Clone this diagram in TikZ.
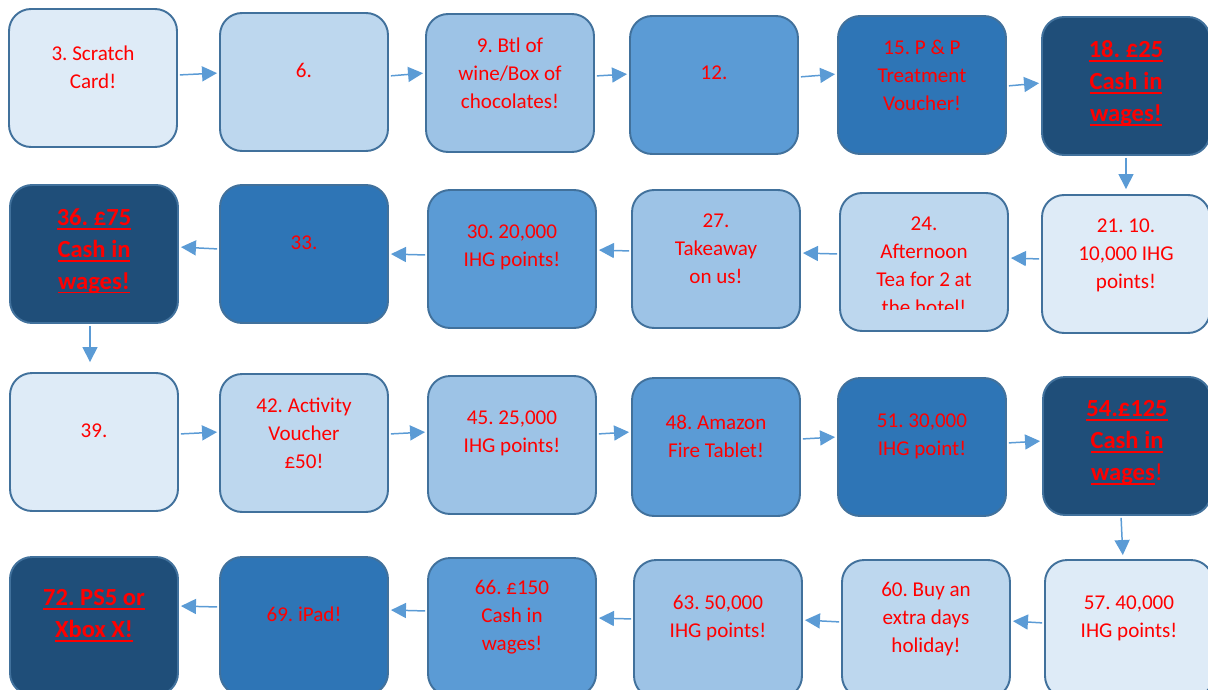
\documentclass[tikz,border=0pt]{standalone}
\usepackage{fontspec}
\setmainfont{Carlito}
\usetikzlibrary{arrows.meta}
\definecolor{tone1}{HTML}{DEEBF7}
\definecolor{tone2}{HTML}{BDD7EE}
\definecolor{tone3}{HTML}{9DC3E6}
\definecolor{tone4}{HTML}{5B9BD5}
\definecolor{tone5}{HTML}{2E75B6}
\definecolor{tone6}{HTML}{1F4E79}
\definecolor{rim}{HTML}{41719C}
\definecolor{linkblue}{HTML}{5B9BD5}
\frenchspacing
\newlength\prizewd
\newcommand\prizeline[1]{\settowidth\prizewd{#1}\rlap{\rule[-2.4pt]{\prizewd}{1.1pt}}#1}
\begin{document}
\begin{tikzpicture}[x=0.02cm, y=-0.02cm,
    tile/.style={draw=rim, line width=1.1pt, rounded corners=0.44cm, minimum width=3.36cm, minimum height=2.76cm, inner sep=0pt},
    prize/.style={text=red, align=center, inner sep=0pt, font=\fontsize{12pt}{15.9pt}\selectfont},
    bigprize/.style={prize, font=\bfseries\fontsize{14pt}{18.2pt}\selectfont},
    link/.style={draw=linkblue, line width=0.85pt, -{Triangle[length=0.3cm, width=0.3cm]}, shorten <=0.04cm, shorten >=0.04cm}]
    \useasboundingbox (0,0) rectangle (1208,690);
    \clip (0,0) rectangle (1208,690);

    \node[tile, fill=tone1] (n3) at (93,78) {};
    \node[tile, fill=tone2] (n6) at (304,82) {};
    \node[tile, fill=tone3] (n9) at (510,83) {};
    \node[tile, fill=tone4] (n12) at (714,85) {};
    \node[tile, fill=tone5] (n15) at (922,85) {};
    \node[tile, fill=tone6] (n18) at (1126,86) {};

    \node[tile, fill=tone6] (n36) at (94,254) {};
    \node[tile, fill=tone5] (n33) at (304,254) {};
    \node[tile, fill=tone4] (n30) at (512,259) {};
    \node[tile, fill=tone3] (n27) at (716,259) {};
    \node[tile, fill=tone2] (n24) at (924,262) {};
    \node[tile, fill=tone1] (n21) at (1126,264) {};

    \node[tile, fill=tone1] (n39) at (94,442) {};
    \node[tile, fill=tone2] (n42) at (304,443) {};
    \node[tile, fill=tone3] (n45) at (512,445) {};
    \node[tile, fill=tone4] (n48) at (716,447) {};
    \node[tile, fill=tone5] (n51) at (922,447) {};
    \node[tile, fill=tone6] (n54) at (1127,446) {};

    \node[tile, fill=tone6] (n72) at (94,626) {};
    \node[tile, fill=tone5] (n69) at (304,626) {};
    \node[tile, fill=tone4] (n66) at (512,627) {};
    \node[tile, fill=tone3] (n63) at (718,629) {};
    \node[tile, fill=tone2] (n60) at (926,629) {};
    \node[tile, fill=tone1] (n57) at (1129,629) {};

    \node[prize] (t3) at (93,67) {3. Scratch\\Card!};
    \node[prize] (t6) at (304,70) {6.};
    \node[prize] (t9) at (510,73) {9. Btl of\\wine/Box of\\chocolates!};
    \node[prize] (t12) at (714,73) {12.};
    \node[prize] (t15) at (922,75) {15. P \& P\\Treatment\\Voucher!};
    \node[bigprize] (t18) at (1126,83) {\prizeline{18. £25}\\\prizeline{Cash in}\\\prizeline{wages!}};

    \node[bigprize] (t36) at (94,251) {\prizeline{36. £75}\\\prizeline{Cash in}\\\prizeline{wages!}};
    \node[prize] (t33) at (304,243) {33.};
    \node[prize] (t30) at (512,247) {30. 20,000\\IHG points!};
    \node[prize] (t27) at (716,249) {27.\\Takeaway\\on us!};
    \begin{scope}
        \clip (840,193) rectangle (1008,309);
        \node[prize] (t24) at (924,266) {24.\\Afternoon\\Tea for 2 at\\the hotel!};
    \end{scope}
    \node[prize] (t21) at (1126,255) {21. 10.\\10,000 IHG\\points!};

    \node[prize] (t39) at (94,431) {39.};
    \node[prize] (t42) at (304,433) {42. Activity\\Voucher\\£50!};
    \node[prize] (t45) at (512,433) {45. 25,000\\IHG points!};
    \node[prize] (t48) at (716,436) {48. Amazon\\Fire Tablet!};
    \node[prize] (t51) at (922,436) {51. 30,000\\IHG point!};
    \node[bigprize] (t54) at (1127,443) {\prizeline{54.£125}\\\prizeline{Cash in}\\\prizeline{wages}\textmd{!}};

    \node[bigprize] (t72) at (94,616) {\prizeline{72. PS5 or}\\\prizeline{Xbox X!}};
    \node[prize] (t69) at (304,614) {69. iPad!};
    \node[prize] (t66) at (512,617) {66. £150\\Cash in\\wages!};
    \node[prize] (t63) at (718,618) {63. 50,000\\IHG points!};
    \node[prize] (t60) at (926,619) {60. Buy an\\extra days\\holiday!};
    \node[prize] (t57) at (1129,618) {57. 40,000\\IHG points!};

    \draw[link] ([yshift=0.06cm]n3.east) -- ([yshift=0.18cm]n6.west);
    \draw[link] ([yshift=0.12cm]n6.east) -- ([yshift=0.2cm]n9.west);
    \draw[link] ([yshift=0.14cm]n9.east) -- ([yshift=0.22cm]n12.west);
    \draw[link] ([yshift=0.16cm]n12.east) -- ([yshift=0.22cm]n15.west);
    \draw[link] ([yshift=-0.02cm]n15.east) -- ([yshift=0.06cm]n18.west);
    \draw[link, shorten >=0.1cm] (n18.south) -- (n21.north);
    \draw[link] ([yshift=0.1cm]n21.west) -- ([yshift=0.08cm]n24.east);
    \draw[link] ([yshift=0.16cm]n24.west) -- ([yshift=0.12cm]n27.east);
    \draw[link] ([yshift=0.16cm]n27.west) -- ([yshift=0.18cm]n30.east);
    \draw[link] ([yshift=0.08cm]n30.west) -- ([yshift=0.0cm]n33.east);
    \draw[link] ([yshift=0.1cm]n33.west) -- ([yshift=0.14cm]n36.east);
    \draw[link, shorten >=0.2cm] ([xshift=-0.08cm]n36.south) -- ([xshift=-0.08cm]n39.north);
    \draw[link] ([yshift=0.16cm]n39.east) -- ([yshift=0.22cm]n42.west);
    \draw[link] ([yshift=0.18cm]n42.east) -- ([yshift=0.26cm]n45.west);
    \draw[link] ([yshift=0.22cm]n45.east) -- ([yshift=0.3cm]n48.west);
    \draw[link] ([yshift=0.16cm]n48.east) -- ([yshift=0.2cm]n51.west);
    \draw[link] ([yshift=0.08cm]n51.east) -- ([yshift=0.1cm]n54.west);
    \draw[link, shorten >=0.08cm] ([xshift=-0.12cm]n54.south) -- ([xshift=-0.12cm]n57.north);
    \draw[link] ([yshift=0.12cm]n57.west) -- ([yshift=0.16cm]n60.east);
    \draw[link] ([yshift=0.14cm]n60.west) -- ([yshift=0.18cm]n63.east);
    \draw[link] ([yshift=0.2cm]n63.west) -- ([yshift=0.18cm]n66.east);
    \draw[link] ([yshift=0.32cm]n66.west) -- ([yshift=0.32cm]n69.east);
    \draw[link] ([yshift=0.38cm]n69.west) -- ([yshift=0.4cm]n72.east);
\end{tikzpicture}
\end{document}
